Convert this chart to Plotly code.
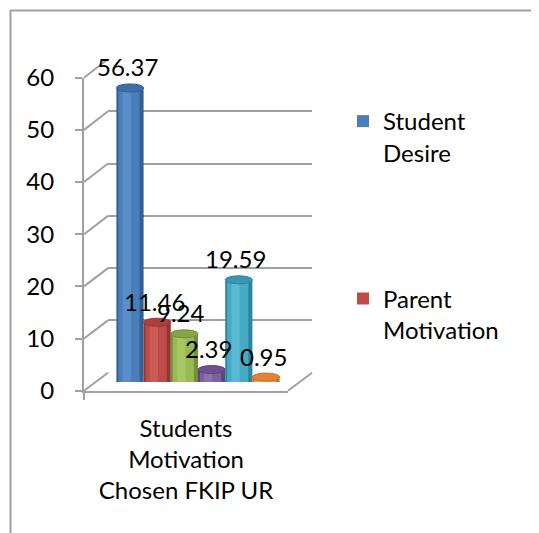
import plotly.graph_objects as go

# ---------------- data ----------------
categories = ["Students<br>Motivation<br>Chosen FKIP UR"]
series_names = ["Student Desire", "Parent Motivation", "Series 3", "Series 4", "Series 5", "Series 6"]
values = [56.37, 11.46, 9.24, 2.39, 19.59, 0.95]
value_labels = ["56.37", "11.46", "9.24", "2.39", "19.59", "0.95"]
y_ticks = [0, 10, 20, 30, 40, 50, 60]

# ---------------- styles ----------------
body_colors = ["#4a7ebb", "#be4b48", "#98b954", "#7d60a0", "#46aac5", "#f79646"]
edge_colors = ["#335f93", "#933633", "#71903a", "#5d4679", "#30839a", "#c9722c"]
hl_colors = ["#5b8dc9", "#cc5a57", "#a7c664", "#8c70ae", "#5ab9d3", "#f9a862"]
cap_colors = ["#3f6ea6", "#a8413e", "#86a548", "#6d528d", "#3b96ae", "#e0843a"]
GRID = "#a0a0a0"
FONT = "Lato"
FS = 24

W, H = 539, 533
OFF = 8  # page body margin
def px(x):
    return (x - OFF) / W
def py(y):
    return 1 - (y - OFF) / H

# layout geometry (pixels)
front = dict(l=84, r=288, y0=390.7, y60=77.7)
back = dict(l=108, r=312, y0=372.7, y60=59.0)
mid = dict(l=96, r=300, y0=382.0, y60=69.0)
YMAX = 60

bargap = 0.2
n = len(values)
slot = (1 - bargap) / n
centers = [-0.5 + bargap / 2 + (i + 0.5) * slot for i in range(n)]
cap_half = 4.0 * YMAX / (mid["y0"] - mid["y60"])  # ellipse half height in data units

fig = go.Figure()

# back wall grid subplot (x/y)
fig.add_trace(go.Scatter(x=[0], y=[0], xaxis="x", yaxis="y", mode="markers",
                         marker=dict(opacity=0), hoverinfo="skip", showlegend=False))

# bars (x2/y2) drawn as layered cylinders
for i, (name, v) in enumerate(zip(series_names, values)):
    c = centers[i]
    fig.add_trace(go.Bar(x=[c], y=[v], width=slot, xaxis="x2", yaxis="y2",
                         marker=dict(color=edge_colors[i], line=dict(width=0)),
                         name=name, legendgroup=name, showlegend=False, hoverinfo="skip"))
    fig.add_trace(go.Bar(x=[c - slot * 0.04], y=[v], width=slot * 0.78, xaxis="x2", yaxis="y2",
                         marker=dict(color=body_colors[i], line=dict(width=0)),
                         name=name, legendgroup=name, showlegend=(i < 2),
                         hovertemplate=name + ": %{y}<extra></extra>"))
    fig.add_trace(go.Bar(x=[c - slot * 0.12], y=[v], width=slot * 0.3, xaxis="x2", yaxis="y2",
                         marker=dict(color=hl_colors[i], line=dict(width=0)),
                         name=name, legendgroup=name, showlegend=False, hoverinfo="skip"))

# front axes (x3/y3)
fig.add_trace(go.Scatter(x=categories, y=[0], xaxis="x3", yaxis="y3", mode="markers",
                         marker=dict(opacity=0), hoverinfo="skip", showlegend=False))

shapes = []
# border of chart area
shapes.append(dict(type="rect", xref="paper", yref="paper", x0=px(10.5), y0=py(10.5),
                   x1=1.2, y1=-0.2, line=dict(color=GRID, width=2), fillcolor="rgba(0,0,0,0)",
                   layer="below"))
# diagonals from front axis ticks to back wall gridlines
def fy(v, g):
    return g["y0"] + (g["y60"] - g["y0"]) * v / YMAX
for v in y_ticks:
    shapes.append(dict(type="line", xref="paper", yref="paper",
                       x0=px(front["l"]), y0=py(fy(v, front)),
                       x1=px(back["l"]), y1=py(fy(v, back)),
                       line=dict(color=GRID, width=2), layer="below"))
shapes.append(dict(type="line", xref="paper", yref="paper",
                   x0=px(front["r"]), y0=py(front["y0"]), x1=px(back["r"]), y1=py(back["y0"]),
                   line=dict(color=GRID, width=2), layer="below"))
# cylinder caps
for i, v in enumerate(values):
    c = centers[i]
    shapes.append(dict(type="circle", xref="x2", yref="y2",
                       x0=c - slot / 2, x1=c + slot / 2, y0=-cap_half, y1=cap_half,
                       fillcolor=edge_colors[i], line=dict(width=0), layer="between"))
    shapes.append(dict(type="circle", xref="x2", yref="y2",
                       x0=c - slot / 2, x1=c + slot / 2, y0=v - cap_half, y1=v + cap_half,
                       fillcolor=cap_colors[i], line=dict(color=edge_colors[i], width=1),
                       layer="above"))

annotations = []
for i, v in enumerate(values):
    annotations.append(dict(x=centers[i], y=v, xref="x2", yref="y2", text=value_labels[i],
                            showarrow=False, yshift=21, xshift=-3, yanchor="middle",
                            font=dict(family=FONT, size=FS, color="#000000")))

fig.update_layout(
    template="none",
    width=W, height=H,
    autosize=False,
    margin=dict(l=0, r=0, t=0, b=0, pad=0),
    paper_bgcolor="#ffffff",
    plot_bgcolor="rgba(0,0,0,0)",
    barmode="overlay",
    font=dict(family=FONT, size=FS, color="#000000"),
    xaxis=dict(domain=[px(back["l"]), px(back["r"])], range=[-0.5, 0.5], visible=False,
               anchor="y", fixedrange=True, automargin=False),
    yaxis=dict(domain=[py(back["y0"]), py(back["y60"])], range=[0, YMAX], anchor="x",
               tickvals=y_ticks, showgrid=True, gridcolor=GRID, gridwidth=2,
               showticklabels=False, zeroline=False, showline=False, ticks="",
               fixedrange=True, automargin=False),
    xaxis2=dict(domain=[px(mid["l"]), px(mid["r"])], range=[-0.5, 0.5], visible=False,
                anchor="y2", fixedrange=True, automargin=False),
    yaxis2=dict(domain=[py(mid["y0"]), py(mid["y60"])], range=[0, YMAX], visible=False,
                anchor="x2", fixedrange=True, automargin=False),
    xaxis3=dict(domain=[px(front["l"]), px(front["r"])], anchor="y3", type="category",
                range=[-0.5, 0.5], showline=True, linecolor=GRID, linewidth=2,
                ticks="outside", tickson="boundaries", ticklen=7, tickcolor=GRID, tickwidth=2,
                showgrid=False, zeroline=False, ticklabelstandoff=15, automargin=False,
                tickfont=dict(family=FONT, size=FS, color="#000000"), fixedrange=True),
    yaxis3=dict(domain=[py(front["y0"]), py(front["y60"])], anchor="x3", range=[0, YMAX],
                tickvals=y_ticks, showline=True, linecolor=GRID, linewidth=2,
                ticks="outside", ticklen=7, tickcolor=GRID, tickwidth=2,
                showgrid=False, zeroline=False, ticklabelstandoff=16, automargin=False,
                tickfont=dict(family=FONT, size=FS, color="#000000"), fixedrange=True),
    legend=dict(x=px(343), y=py(99), xanchor="left", yanchor="top",
                font=dict(family=FONT, size=FS, color="#000000"),
                tracegroupgap=112, valign="top", bgcolor="rgba(0,0,0,0)",
                itemclick=False, itemdoubleclick=False),
    shapes=shapes,
    annotations=annotations,
)

# legend names with line break like the reference
for tr in fig.data:
    if tr.showlegend:
        tr.name = tr.name.replace(" ", "<br>")

fig.write_html("out.html")
